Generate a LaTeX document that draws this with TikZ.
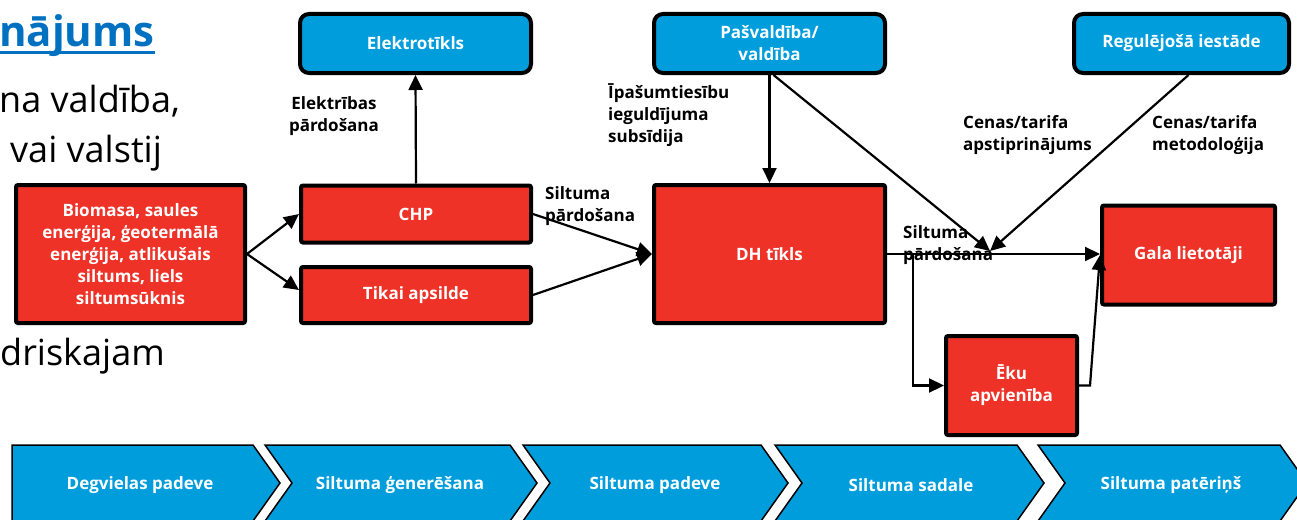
\documentclass[tikz,border=0pt]{standalone}
\usepackage{fontspec}
\setmainfont{Open Sans}
\usetikzlibrary{arrows.meta,calc}
\definecolor{boxred}{RGB}{238,50,40}
\definecolor{boxblue}{RGB}{0,157,220}
\definecolor{headblue}{RGB}{0,112,192}

\begin{document}
\begin{tikzpicture}[x=1pt,y=-1pt,
  lbl/.style={font=\fontsize{17}{22}\selectfont\bfseries, text=black, inner sep=0pt},
  redbox/.style={draw=black, line width=4pt, fill=boxred, rounded corners=2pt,
    text=white, font=\fontsize{17}{22}\selectfont\bfseries, align=center, inner sep=0pt},
  bluebox/.style={redbox, fill=boxblue, rounded corners=9pt},
  arr/.style={line width=2.2pt, -{Triangle[length=15pt,width=14pt]}},
  chev/.style={fill=boxblue, draw=black, line width=1.5pt, line join=miter},
  chevtxt/.style={text=white, font=\fontsize{17}{22}\selectfont\bfseries, inner sep=0pt},
  bodytxt/.style={font=\fontsize{36}{44}\selectfont, anchor=base west, inner sep=0pt, text=black}
]
\useasboundingbox (0,0) rectangle (1297,519);

% slide text lying behind the diagram
\node[bodytxt, font=\fontsize{42}{48}\selectfont\bfseries, text=headblue] (head) at (-1,47) {nājums};
\draw[headblue, line width=3pt] (0,53) -- (155,53);
\node[bodytxt] (t1) at (-1,112) {na valdība,};
\node[bodytxt] (t2) at (10,162) {vai valstij};
\node[bodytxt] (t3) at (0,365) {driskajam};

% actors and stages
\node[redbox, minimum width=229pt, minimum height=138pt] (bio) at (130.5,254)
  {Biomasa, saules\\enerģija, ģeotermālā\\enerģija, atlikušais\\siltums, liels\\siltumsūknis};
\node[redbox, minimum width=230pt, minimum height=57pt] (chp) at (416,214) {CHP};
\node[redbox, minimum width=230pt, minimum height=56pt] (tikai) at (416,295) {Tikai apsilde};
\node[bluebox, minimum width=231pt, minimum height=59pt] (elek) at (415.5,43.5) {Elektrotīkls};
\node[bluebox, minimum width=231pt, minimum height=59pt] (pasv) at (769.5,43.5) {Pašvaldība/\\valdība};
\node[bluebox, minimum width=215pt, minimum height=59pt] (reg) at (1181.5,43.5) {Regulējošā iestāde};
\node[redbox, minimum width=231pt, minimum height=138pt] (dh) at (769.5,254) {DH tīkls};
\node[redbox, minimum width=173pt, minimum height=99pt] (gala) at (1188.5,255) {Gala lietotāji};
\node[redbox, minimum width=131pt, minimum height=99pt] (eku) at (1011.5,385.5) {Ēku\\apvienība};

% flow labels
\node[lbl, align=center] (lelek) at (334,116) {Elektrības\\pārdošana};
\node[lbl, align=left, anchor=west] (lsub) at (608,115) {Īpašumtiesību\\ieguldījuma\\subsīdija};
\node[lbl, align=left, anchor=west] (lapst) at (963,135) {Cenas/tarifa\\apstiprinājums};
\node[lbl, align=left, anchor=west] (lmet) at (1152,135) {Cenas/tarifa\\metodoloģija};
\node[lbl, align=left, anchor=west] (lsp1) at (545,206) {Siltuma\\pārdošana};
\node[lbl, align=left, anchor=west] (lsp2) at (903,245) {Siltuma\\pārdošana};

% connectors
\coordinate (join) at (990,251);
\coordinate (split) at ($(dh.east)+(26,0)$);
\draw[arr] (bio.east) -- (chp.west);
\draw[arr] (bio.east) -- ($(tikai.west)+(0,-5)$);
\draw[arr] (chp.north) -- (elek.south);
\draw[arr] (chp.east) -- (dh.west);
\draw[arr] (tikai.east) -- (dh.west);
\draw[arr] (pasv.south) -- (dh.north);
\draw[arr] ($(pasv.south)+(4,0)$) -- (join);
\draw[arr] ($(reg.south)+(7,0)$) -- (join);
\draw[arr] (dh.east) -- (dh.east -| gala.west);
\draw[arr] (split) |- (eku.west);
\draw[arr] (eku.east) -- ++(11,0) -- (gala.west);

% value chain chevrons
\filldraw[chev] (12,445) -- (253,445) -- (280,483) -- (253,521) -- (12,521) -- cycle;
\node[chevtxt] (c1) at (140,485) {Degvielas padeve};
\filldraw[chev] (265,445) -- (510,445) -- (537,483) -- (510,521) -- (265,521) -- (292,483) -- cycle;
\node[chevtxt] (c2) at (400,485) {Siltuma ģenerēšana};
\filldraw[chev] (523,445) -- (761,445) -- (788,483) -- (761,521) -- (523,521) -- (550,483) -- cycle;
\node[chevtxt] (c3) at (655,485) {Siltuma padeve};
\filldraw[chev] (775,445) -- (1017,445) -- (1044,483) -- (1017,521) -- (775,521) -- (802,483) -- cycle;
\node[chevtxt] (c4) at (911,485) {Siltuma sadale};
\filldraw[chev] (1038,445) -- (1280,445) -- (1307,483) -- (1280,521) -- (1038,521) -- (1065,483) -- cycle;
\node[chevtxt] (c5) at (1171,485) {Siltuma patēriņš};
\end{tikzpicture}
\end{document}
